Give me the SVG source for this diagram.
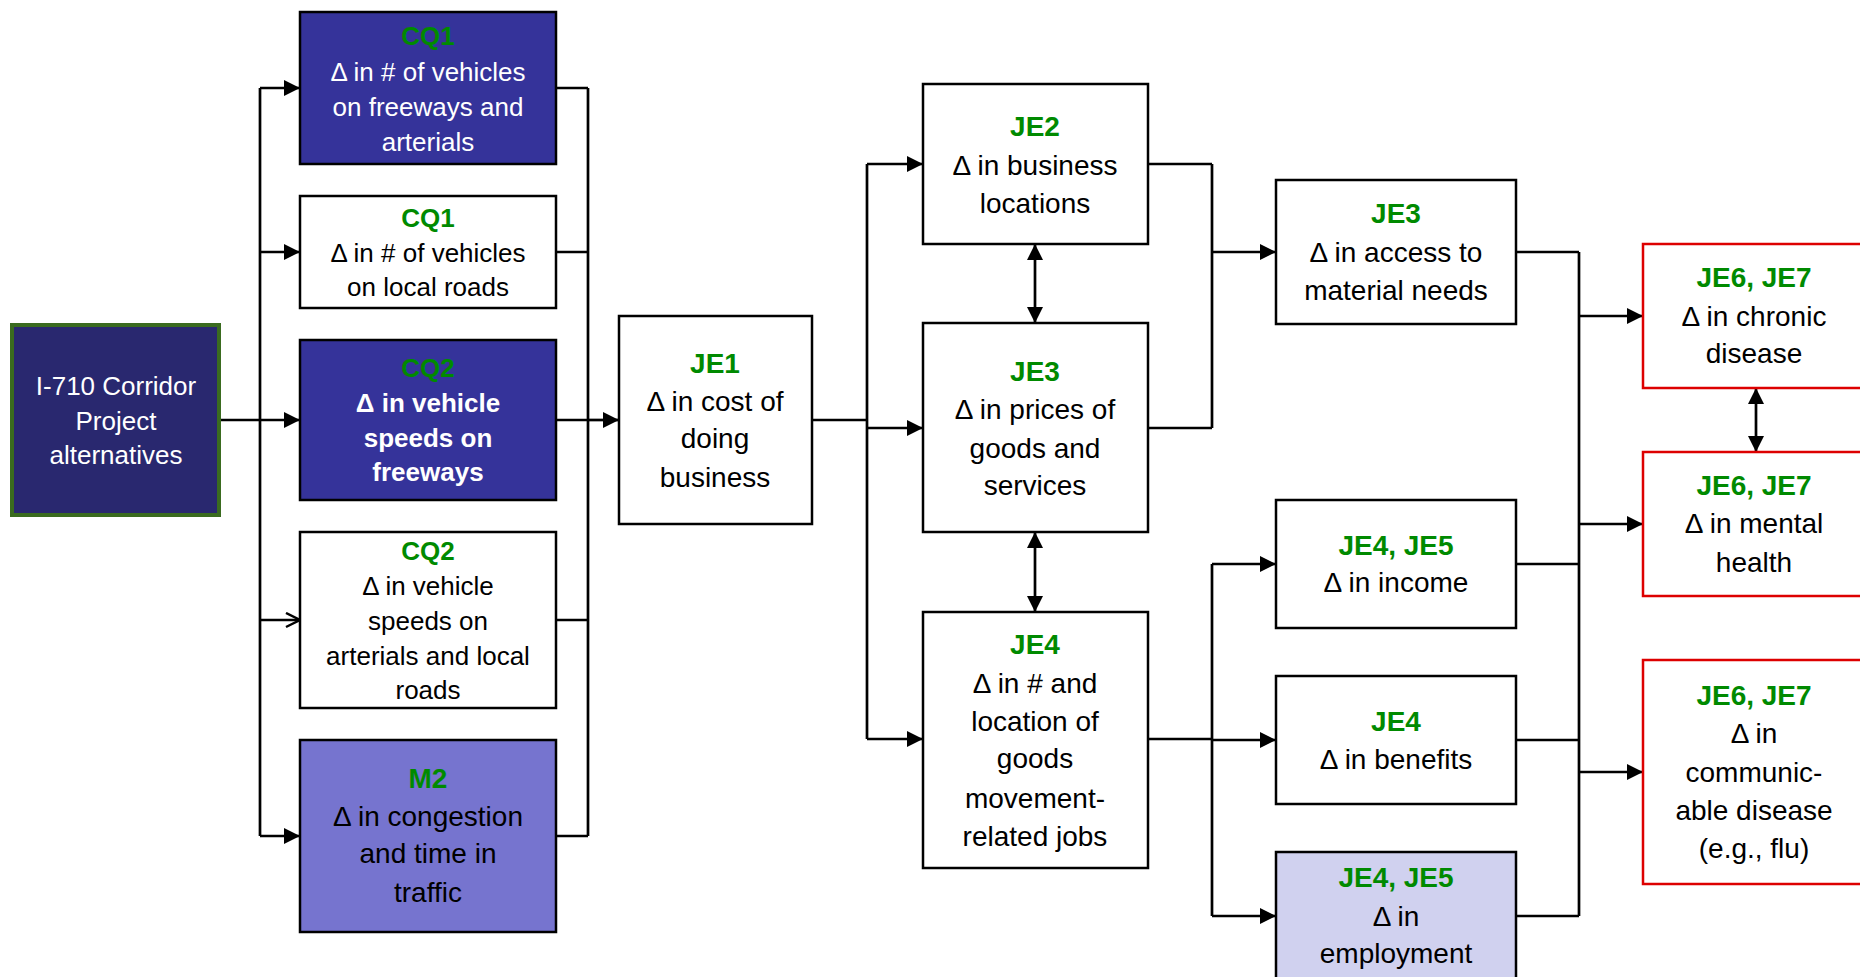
<svg xmlns="http://www.w3.org/2000/svg" width="1860" height="977" viewBox="0 0 1860 977">
<style>
.box{stroke:#000;stroke-width:2.5}
.red{fill:#fff;stroke:#dd0000;stroke-width:2.5}
.t{font-family:"Liberation Sans",Arial,sans-serif;text-anchor:middle;fill:#000}
.s{font-size:26px}
.l{font-size:28px}
.g{fill:#008a00;font-weight:bold}
.w{fill:#fff}
.b{font-weight:bold}
.ln{fill:none;stroke:#000;stroke-width:2.7}
</style>
<defs>
<marker id="ah" markerUnits="userSpaceOnUse" markerWidth="18" markerHeight="18" refX="16" refY="8" orient="auto-start-reverse">
<path d="M0,0 L16,8 L0,16 z" fill="#000"/>
</marker>
<marker id="oh" markerUnits="userSpaceOnUse" markerWidth="18" markerHeight="18" refX="15" refY="8" orient="auto">
<path d="M1,1 L15,8 L1,15" fill="none" stroke="#000" stroke-width="2.5"/>
</marker>
</defs>
<rect width="1860" height="977" fill="#fff"/>
<g id="connectors">
<path class="ln" d="M221,420 H260" stroke-width="3.5"/>
<path class="ln" d="M260,88 V836"/>
<path class="ln" d="M260,88 H300" marker-end="url(#ah)"/>
<path class="ln" d="M260,252 H300" marker-end="url(#ah)"/>
<path class="ln" d="M260,420 H300" marker-end="url(#ah)"/>
<path class="ln" d="M260,620 H300" marker-end="url(#oh)"/>
<path class="ln" d="M260,836 H300" marker-end="url(#ah)"/>
<path class="ln" d="M556,88 H588 M556,252 H588 M556,420 H588 M556,620 H588 M556,836 H588 M588,88 V836"/>
<path class="ln" d="M588,420 H619" marker-end="url(#ah)"/>
<path class="ln" d="M812,420 H867 M867,164 V739"/>
<path class="ln" d="M867,164 H923" marker-end="url(#ah)"/>
<path class="ln" d="M867,428 H923" marker-end="url(#ah)"/>
<path class="ln" d="M867,739 H923" marker-end="url(#ah)"/>
<path class="ln" d="M1035,244 V323" marker-start="url(#ah)" marker-end="url(#ah)"/>
<path class="ln" d="M1035,532 V612" marker-start="url(#ah)" marker-end="url(#ah)"/>
<path class="ln" d="M1148,164 H1212 M1148,428 H1212 M1212,164 V428"/>
<path class="ln" d="M1212,252 H1276" marker-end="url(#ah)"/>
<path class="ln" d="M1148,739 H1212 M1212,564 V916"/>
<path class="ln" d="M1212,564 H1276" marker-end="url(#ah)"/>
<path class="ln" d="M1212,740 H1276" marker-end="url(#ah)"/>
<path class="ln" d="M1212,916 H1276" marker-end="url(#ah)"/>
<path class="ln" d="M1516,252 H1579 M1516,564 H1579 M1516,740 H1579 M1516,916 H1579 M1579,252 V916"/>
<path class="ln" d="M1579,316 H1643" marker-end="url(#ah)"/>
<path class="ln" d="M1579,524 H1643" marker-end="url(#ah)"/>
<path class="ln" d="M1579,772 H1643" marker-end="url(#ah)"/>
<path class="ln" d="M1756,388 V452" marker-start="url(#ah)" marker-end="url(#ah)"/>
</g>
<g id="start">
<rect x="12" y="325" width="207" height="190" fill="#29286f" stroke="#3a6b1f" stroke-width="4"/>
<text class="t s w" x="116" y="395">I-710 Corridor</text>
<text class="t s w" x="116" y="430">Project</text>
<text class="t s w" x="116" y="464">alternatives</text>
</g>
<g id="cq1a">
<rect class="box" x="300" y="12" width="256" height="152" fill="#35339a"/>
<text class="t s g" x="428" y="45">CQ1</text>
<text class="t s w" x="428" y="81">Δ in # of vehicles</text>
<text class="t s w" x="428" y="116">on freeways and</text>
<text class="t s w" x="428" y="151">arterials</text>
</g>
<g id="cq1b">
<rect class="box" x="300" y="196" width="256" height="112" fill="#fff"/>
<text class="t s g" x="428" y="227">CQ1</text>
<text class="t s" x="428" y="262">Δ in # of vehicles</text>
<text class="t s" x="428" y="296">on local roads</text>
</g>
<g id="cq2a">
<rect class="box" x="300" y="340" width="256" height="160" fill="#35339a"/>
<text class="t s g" x="428" y="377">CQ2</text>
<text class="t s w b" x="428" y="412">Δ in vehicle</text>
<text class="t s w b" x="428" y="447">speeds on</text>
<text class="t s w b" x="428" y="481">freeways</text>
</g>
<g id="cq2b">
<rect class="box" x="300" y="532" width="256" height="176" fill="#fff"/>
<text class="t s g" x="428" y="560">CQ2</text>
<text class="t s" x="428" y="595">Δ in vehicle</text>
<text class="t s" x="428" y="630">speeds on</text>
<text class="t s" x="428" y="665">arterials and local</text>
<text class="t s" x="428" y="699">roads</text>
</g>
<g id="m2">
<rect class="box" x="300" y="740" width="256" height="192" fill="#7674cf"/>
<text class="t l g" x="428" y="788">M2</text>
<text class="t l" x="428" y="826">Δ in congestion</text>
<text class="t l" x="428" y="863">and time in</text>
<text class="t l" x="428" y="902">traffic</text>
</g>
<g id="je1">
<rect class="box" x="619" y="316" width="193" height="208" fill="#fff"/>
<text class="t l g" x="715" y="373">JE1</text>
<text class="t l" x="715" y="411">Δ in cost of</text>
<text class="t l" x="715" y="448">doing</text>
<text class="t l" x="715" y="487">business</text>
</g>
<g id="je2">
<rect class="box" x="923" y="84" width="225" height="160" fill="#fff"/>
<text class="t l g" x="1035" y="136">JE2</text>
<text class="t l" x="1035" y="175">Δ in business</text>
<text class="t l" x="1035" y="213">locations</text>
</g>
<g id="je3prices">
<rect class="box" x="923" y="323" width="225" height="209" fill="#fff"/>
<text class="t l g" x="1035" y="381">JE3</text>
<text class="t l" x="1035" y="419">Δ in prices of</text>
<text class="t l" x="1035" y="458">goods and</text>
<text class="t l" x="1035" y="495">services</text>
</g>
<g id="je4jobs">
<rect class="box" x="923" y="612" width="225" height="256" fill="#fff"/>
<text class="t l g" x="1035" y="654">JE4</text>
<text class="t l" x="1035" y="693">Δ in # and</text>
<text class="t l" x="1035" y="731">location of</text>
<text class="t l" x="1035" y="768">goods</text>
<text class="t l" x="1035" y="808">movement-</text>
<text class="t l" x="1035" y="846">related jobs</text>
</g>
<g id="je3access">
<rect class="box" x="1276" y="180" width="240" height="144" fill="#fff"/>
<text class="t l g" x="1396" y="223">JE3</text>
<text class="t l" x="1396" y="262">Δ in access to</text>
<text class="t l" x="1396" y="300">material needs</text>
</g>
<g id="je45income">
<rect class="box" x="1276" y="500" width="240" height="128" fill="#fff"/>
<text class="t l g" x="1396" y="555">JE4, JE5</text>
<text class="t l" x="1396" y="592">Δ in income</text>
</g>
<g id="je4benefits">
<rect class="box" x="1276" y="676" width="240" height="128" fill="#fff"/>
<text class="t l g" x="1396" y="731">JE4</text>
<text class="t l" x="1396" y="769">Δ in benefits</text>
</g>
<g id="je45employment">
<rect class="box" x="1276" y="852" width="240" height="140" fill="#d0d1ef"/>
<text class="t l g" x="1396" y="887">JE4, JE5</text>
<text class="t l" x="1396" y="926">Δ in</text>
<text class="t l" x="1396" y="963">employment</text>
</g>
<g id="je67chronic">
<rect class="red" x="1643" y="244" width="225" height="144"/>
<text class="t l g" x="1754" y="287">JE6, JE7</text>
<text class="t l" x="1754" y="326">Δ in chronic</text>
<text class="t l" x="1754" y="363">disease</text>
</g>
<g id="je67mental">
<rect class="red" x="1643" y="452" width="225" height="144"/>
<text class="t l g" x="1754" y="495">JE6, JE7</text>
<text class="t l" x="1754" y="533">Δ in mental</text>
<text class="t l" x="1754" y="572">health</text>
</g>
<g id="je67communicable">
<rect class="red" x="1643" y="660" width="225" height="224"/>
<text class="t l g" x="1754" y="705">JE6, JE7</text>
<text class="t l" x="1754" y="743">Δ in</text>
<text class="t l" x="1754" y="782">communic-</text>
<text class="t l" x="1754" y="820">able disease</text>
<text class="t l" x="1754" y="858">(e.g., flu)</text>
</g>
</svg>
